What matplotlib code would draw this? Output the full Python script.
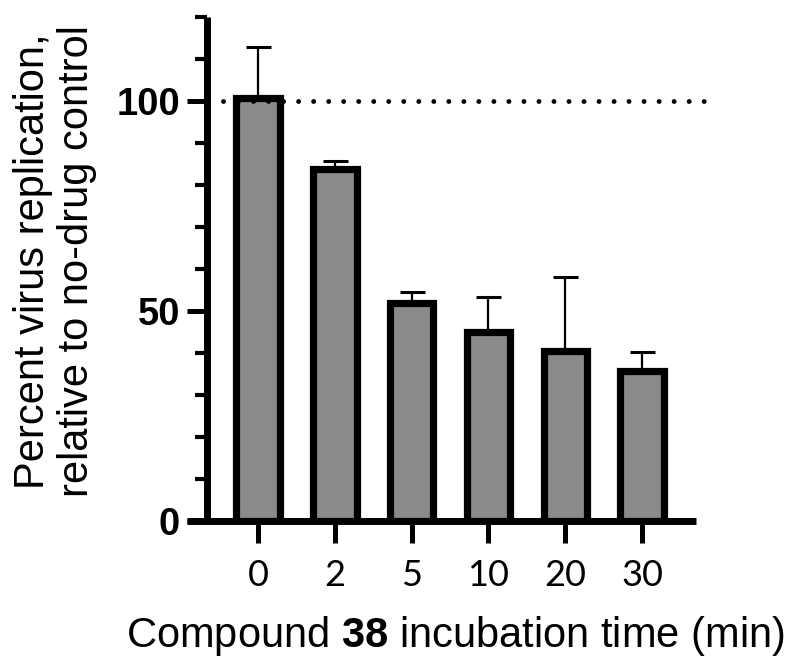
"""
Compound 38 incubation time vs percent virus replication (bar chart, Prism style)
"""
import numpy as np
import matplotlib
matplotlib.use('Agg')
import matplotlib.pyplot as plt
import matplotlib.ticker as mticker

plt.rcParams['font.family'] = ['Liberation Sans', 'DejaVu Sans']
plt.rcParams['mathtext.fontset'] = 'custom'
plt.rcParams['mathtext.rm'] = 'Liberation Sans'
plt.rcParams['mathtext.bf'] = 'Liberation Sans:bold'

# 数据
times = ['0', '2', '5', '10', '20', '30']
means = [100.6, 83.9, 52.0, 44.9, 40.5, 35.7]
errs_up = [12.3, 1.8, 2.6, 8.4, 17.6, 4.6]
ref_level = 100

W, H = 796, 660
fig = plt.figure(figsize=(W / 100, H / 100), dpi=100)
fig.patch.set_facecolor('white')
ax = fig.add_axes([187 / W, 139 / H, 509 / W, 504 / H])

x = np.arange(len(times))
ax.bar(x, means, width=0.565, color='#8a8a8a', edgecolor='black', linewidth=5.2, zorder=3)
ax.errorbar(x, means, yerr=[np.zeros(len(means)), errs_up], fmt='none',
            ecolor='black', elinewidth=1.6, capsize=9, capthick=2.2, zorder=2)

# 100% 参照线
ax.plot([-0.455, 5.86], [ref_level, ref_level], color='black', lw=3.5,
        ls=(0, (0.01, 3.08)), dash_capstyle='round', clip_on=False, zorder=4)

ax.set_xlim(-0.9245, 5.703)
ax.set_ylim(0, 120)

for s in ['top', 'right']:
    ax.spines[s].set_visible(False)
ax.spines['left'].set_position(('data', -0.664))
ax.spines['left'].set_linewidth(5)
ax.spines['bottom'].set_linewidth(5)
ax.spines['left'].set_capstyle('butt')
ax.spines['bottom'].set_capstyle('butt')

ax.set_yticks([0, 50, 100])
ax.yaxis.set_minor_locator(mticker.MultipleLocator(10))
ax.set_xticks(x)
ax.set_xticklabels(times)
ax.tick_params(axis='y', which='major', length=14.5, width=3.6, pad=5, labelsize=27.5)
ax.tick_params(axis='y', which='minor', length=8.5, width=3)
ax.tick_params(axis='x', which='major', length=16, width=3.6, pad=11, labelsize=26)
for lbl in ax.get_yticklabels():
    lbl.set_fontweight('bold')
for lbl in ax.get_xticklabels():
    lbl.set_family(['Lato', 'DejaVu Sans'])
ax.patch.set_alpha(0)

fig.text(455 / W, 1 - 647 / H, r'Compound $\mathbf{38}$ incubation time (min)',
         fontsize=30, ha='center', va='baseline')
fig.text(55 / W, 1 - 261 / H, 'Percent virus replication,\nrelative to no-drug control',
         fontsize=30, rotation=90, ha='center', va='center',
         multialignment='center', linespacing=1.15)

plt.savefig('out.png', dpi=100, facecolor='white')
plt.close()
